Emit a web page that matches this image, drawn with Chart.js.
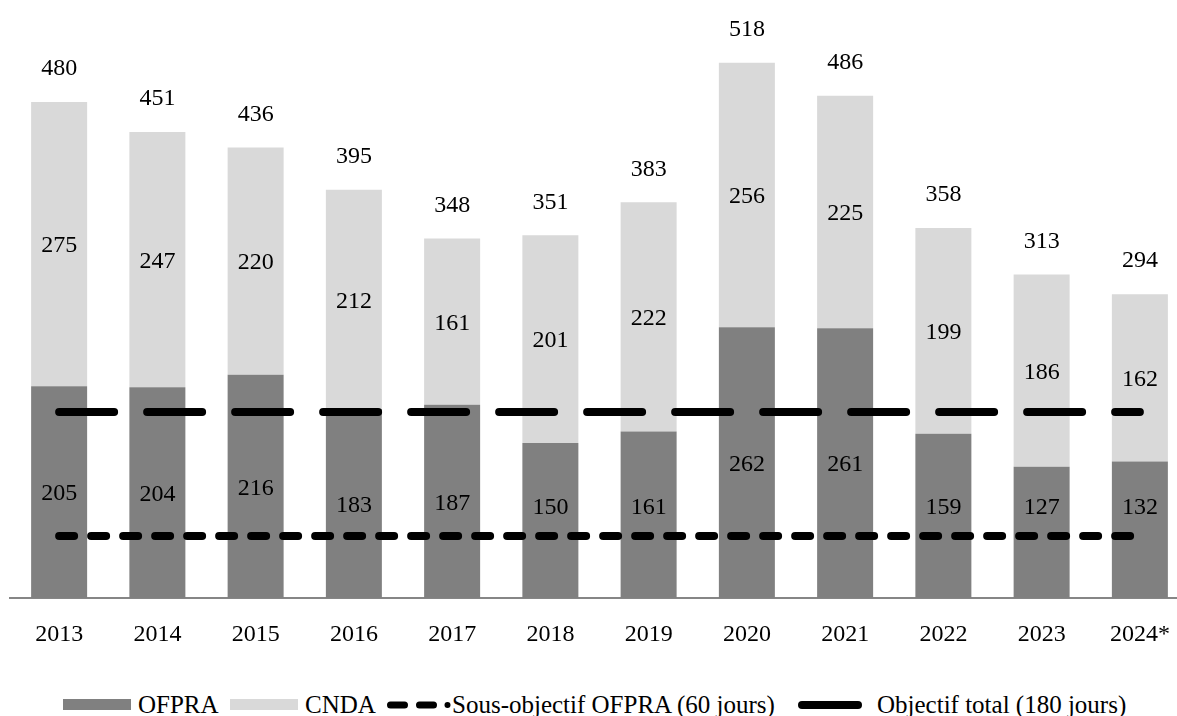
<!DOCTYPE html>
<html>
<head>
  <meta charset="UTF-8" />
  <title>Délais de traitement OFPRA / CNDA</title>
  <script src="https://cdn.jsdelivr.net/npm/chart.js@4.4.1/dist/chart.umd.min.js"></script>
  <style>
    body { margin: 0; overflow: hidden; background: #fff; font-family: "Liberation Serif", serif; }
    #wrap { position: relative; width: 1200px; height: 716px; }
    #legend span { position: absolute; top: 693px; font-size: 25px; line-height: 24px; color: #000; white-space: nowrap; }
    #legend .box { position: absolute; top: 699px; width: 68px; height: 11px; }
    #legend svg { position: absolute; top: 697px; }
  </style>
</head>
<body>
  <div id="wrap">
    <canvas id="chart" width="1200" height="660"></canvas>
    <div id="legend">
      <div class="box" style="left:63px;background:#808080"></div>
      <span style="left:138px">OFPRA</span>
      <div class="box" style="left:230px;background:#d9d9d9"></div>
      <span style="left:305px">CNDA</span>
      <svg style="left:380px" width="75" height="16">
        <line x1="10.5" y1="8" x2="68" y2="8" stroke="#000" stroke-width="7" stroke-linecap="round" stroke-dasharray="14 15" />
        <circle cx="67.5" cy="8" r="3" fill="#000" />
      </svg>
      <span style="left:452px">Sous-objectif OFPRA (60 jours)</span>
      <svg style="left:790px" width="80" height="16">
        <line x1="12" y1="8" x2="68" y2="8" stroke="#000" stroke-width="8" stroke-linecap="round" />
      </svg>
      <span style="left:877px">Objectif total (180 jours)</span>
    </div>
  </div>
  <script>
    const years = ['2013', '2014', '2015', '2016', '2017', '2018', '2019', '2020', '2021', '2022', '2023', '2024*'];
    const ofpra = [205, 204, 216, 183, 187, 150, 161, 262, 261, 159, 127, 132];
    const cnda = [275, 247, 220, 212, 161, 201, 222, 256, 225, 199, 186, 162];
    const totals = [480, 451, 436, 395, 348, 351, 383, 518, 486, 358, 313, 294];
    const sousObjectif = [60, 60, 60, 60, 60, 60, 60, 60, 60, 60, 60, 60];
    const objectifTotal = [180, 180, 180, 180, 180, 180, 180, 180, 180, 180, 180, 180];

    const FONT = '"Liberation Serif", serif';

    // values inside each segment + total above the stack
    const valueLabels = {
      id: 'valueLabels',
      afterDatasetsDraw(chart) {
        const ctx = chart.ctx;
        const y = chart.scales.y;
        // keep the OFPRA values clear of the 60-day dashed line
        const limit = y.getPixelForValue(sousObjectif[0]) - 28;
        ctx.save();
        ctx.font = '24px ' + FONT;
        ctx.fillStyle = '#000';
        ctx.textAlign = 'center';
        ctx.textBaseline = 'middle';
        chart.getDatasetMeta(0).data.forEach((bar, i) => {
          const mid = (bar.y + bar.base) / 2 + 2;
          ctx.fillText(ofpra[i], bar.x, Math.min(mid, limit));
        });
        chart.getDatasetMeta(1).data.forEach((bar, i) => {
          ctx.fillText(cnda[i], bar.x, (bar.y + bar.base) / 2 + 2);
          ctx.fillText(totals[i], bar.x, bar.y - 33);
        });
        ctx.restore();
      }
    };

    new Chart(document.getElementById('chart'), {
      data: {
        labels: years,
        datasets: [
          {
            type: 'bar', label: 'OFPRA', data: ofpra, backgroundColor: '#808080',
            stack: 'delais', order: 2, categoryPercentage: 1, barPercentage: 0.57
          },
          {
            type: 'bar', label: 'CNDA', data: cnda, backgroundColor: '#d9d9d9',
            stack: 'delais', order: 2, categoryPercentage: 1, barPercentage: 0.57
          },
          {
            type: 'line', label: 'Sous-objectif OFPRA (60 jours)', data: sousObjectif,
            borderColor: '#000', borderWidth: 8, borderDash: [15, 17], borderCapStyle: 'round',
            pointRadius: 0, fill: false, stack: 's60', order: 1
          },
          {
            type: 'line', label: 'Objectif total (180 jours)', data: objectifTotal,
            borderColor: '#000', borderWidth: 8, borderDash: [55, 33], borderCapStyle: 'round',
            pointRadius: 0, fill: false, stack: 's180', order: 1
          }
        ]
      },
      options: {
        responsive: false,
        animation: false,
        events: [],
        layout: { padding: { left: 10, right: 11, top: 10, bottom: 2 } },
        plugins: {
          legend: { display: false },
          tooltip: { enabled: false }
        },
        scales: {
          x: {
            stacked: true,
            grid: { display: false, drawTicks: false },
            border: { display: true, color: '#868686', width: 2 },
            ticks: { color: '#000', font: { family: FONT, size: 24 }, padding: 22 },
            afterFit(scale) { scale.height = 60; }
          },
          y: {
            stacked: true,
            display: false,
            min: 0,
            max: 569
          }
        }
      },
      plugins: [valueLabels]
    });
  </script>
</body>
</html>
